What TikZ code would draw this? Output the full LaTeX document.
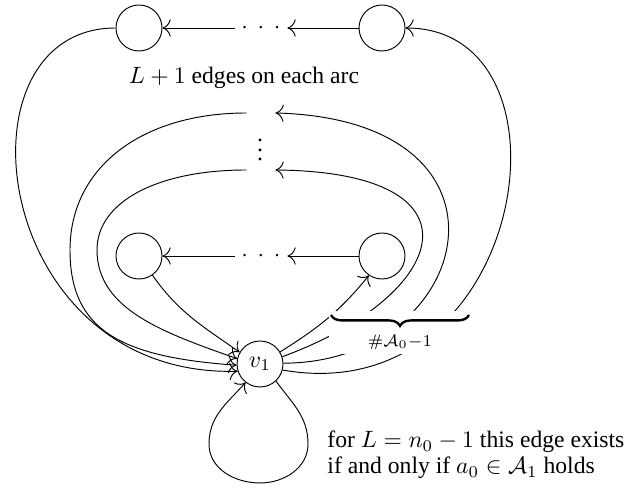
\documentclass[tikz,border=0pt]{standalone}
\usepackage[no-math]{fontspec}
\setmainfont{Liberation Serif}
\usetikzlibrary{arrows.meta,decorations.pathreplacing}
\begin{document}
\begin{tikzpicture}[x=0.423pt,y=-0.423pt,>={To[scale=1.4]},
  vert/.style={circle,draw,minimum size=19.46pt,inner sep=0pt},
  gapnode/.style={inner sep=0pt,minimum width=11.84pt,minimum height=3pt},
  dotsnode/.style={inner sep=0pt,minimum width=22pt,minimum height=3pt},
  txt/.style={inner sep=0pt},
  bracestyle/.style={decorate,decoration={brace,mirror,amplitude=4.6pt},line width=1pt}]
\useasboundingbox (0,0) rectangle (630,488);
% nodes
\node[vert] (L2) at (139,28) {};
\node[vert] (R2) at (382,28) {};
\node[dotsnode] (d2) at (261,28) {$\cdot\kern1.87pt\cdot\kern1.87pt\cdot$};
\node[vert] (L1) at (139,256) {};
\node[vert] (R1) at (382,256) {};
\node[dotsnode] (d1) at (261,256) {$\cdot\kern1.87pt\cdot\kern1.87pt\cdot$};
\node[vert] (v1) at (260,364) {$v_1$};
\node[gapnode] (m1) at (261,113) {};
\node[gapnode] (m2) at (261,170) {};
\node[txt] (vd) at (260,143) {$\vdots$};
\node[txt] (lab) at (244,78) {$L+1$ edges on each arc};
% chains
\draw[->] (R2) -- (d2);
\draw[->] (d2) -- (L2);
\draw[->] (R1) -- (d1);
\draw[->] (d1) -- (L1);
% outer arc
\draw[->] (v1.-15) .. controls (528,413) and (585,28) .. (R2);
\draw[->] (L2) .. controls (-50,28) and (-10,378) .. (v1.198);
% middle arc 1
\draw[->] (v1.2) .. controls (473,363) and (535,120) .. (m1.east);
\draw[->] (m1.west) .. controls (141,113) and (70,168) .. (70,250)
   .. controls (70,330) and (120,357) .. (v1.183);
% middle arc 2
\draw[->] (v1.18) .. controls (450,295) and (490,172) .. (m2.east);
\draw[->] (m2.west) .. controls (157,170) and (97,202) .. (97,250)
   .. controls (97,310) and (165,333) .. (v1.167);
% inner arc
\draw[->] (v1.31) .. controls (318.7,327.8) and (340.1,310.9) .. (R1.-124);
\draw[->] (L1.-55) .. controls (178.6,312.5) and (202.4,326.1) .. (v1.150);
% loop
\draw[->] (v1.-47) .. controls (292,403.2) and (308,416.3) .. (308,444)
   .. controls (308,468) and (284,483) .. (260,483)
   .. controls (235,483) and (209,469) .. (209,444)
   .. controls (209,416) and (227.3,403.1) .. (v1.-128);
% brace box
\node[fill=white,inner sep=0pt,minimum width=60.5pt,minimum height=18.2pt,
      anchor=north west] (br) at (329,311) {};
\coordinate (bl) at (331,315);
\coordinate (brr) at (469,315);
\draw[bracestyle] (bl) -- (brr);
\node[txt] (blab) at (400,342) {$\scriptstyle\#\mathcal{A}_0-1$};
% loop text
\node[txt,anchor=base west] (t1) at (327,448) {for $L = n_0 - 1$ this edge exists};
\node[txt,anchor=base west] (t2) at (327,474) {if and only if $a_0 \in \mathcal{A}_1$ holds};
\end{tikzpicture}
\end{document}
